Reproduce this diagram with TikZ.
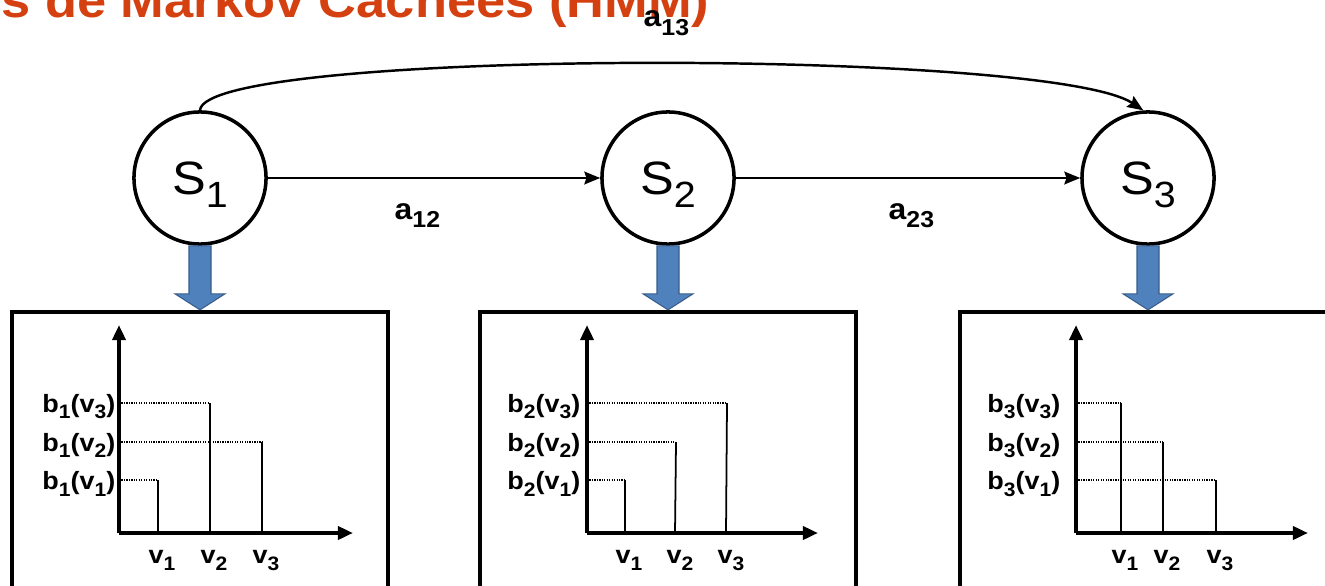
\documentclass[tikz,border=0pt]{standalone}
\usepackage{fontspec}
\setmainfont{Liberation Sans}[FakeStretch=1.08]
\usepackage{graphicx}
\usepackage{tikz}
\usetikzlibrary{arrows.meta,positioning,calc}
\definecolor{titleRed}{HTML}{D4400F}
\definecolor{emitFill}{HTML}{4F81BD}
\definecolor{emitEdge}{HTML}{385D8A}
\newcommand{\ix}[1]{\raisebox{-0.28em}{\scalebox{0.78}{#1}}}

\begin{document}
\begin{tikzpicture}[
    x=0.01cm, y=-0.01cm,
    state/.style={
      circle, draw, line width=1pt, minimum size=1.32cm, inner sep=0pt,
      text height=9.4pt, text depth=0pt, font=\fontsize{13.3pt}{15pt}\selectfont
    },
    obsbox/.style={rectangle, draw, line width=1.1pt, minimum width=3.76cm, minimum height=2.9cm, inner sep=0pt},
    trans/.style={-{Stealth[length=4.5pt,width=3.6pt,inset=0.6pt]}, line width=0.7pt},
    translbl/.style={inner sep=0pt, font=\fontsize{8.4pt}{10pt}\selectfont\bfseries},
    emitarr/.style={fill=emitFill, draw=emitEdge, line width=0.3pt},
    axis/.style={-{Triangle[length=4.3pt,width=3.7pt]}, line width=1.1pt},
    bar/.style={line width=0.5pt},
    guide/.style={line width=0.3pt, dash pattern=on 0.35pt off 0.35pt},
    obslbl/.style={inner sep=0pt, font=\fontsize{7.1pt}{8.5pt}\selectfont\bfseries}
  ]
  \useasboundingbox (0,0) rectangle (1325,585);
  \clip (0,0) rectangle (1325,585);

  \node[anchor=base east, inner sep=0pt, text=titleRed, font=\fontsize{13.8pt}{15pt}\selectfont\bfseries] (title) at (710,18) {s de Markov Cachées (HMM)};

  % states
  \node[state] (s1) at (200,178) {S\ix{1}};
  \node[state] (s2) at (668,178) {S\ix{2}};
  \node[state] (s3) at (1148,178) {S\ix{3}};

  \draw[trans] (s1) -- (s2);
  \draw[trans] (s2) -- (s3);
  \draw[trans] (s1.north) .. controls +(5,-62) and +(-93,-62) .. (s3.94);

  \node[translbl, anchor=base west] (a12) at (394,219) {a\ix{12}};
  \node[translbl, anchor=base west] (a23) at (888,219) {a\ix{23}};
  \node[translbl, anchor=base west] (a13) at (643,27) {a\ix{13}};

  % observation boxes
  \node[obsbox, below=0.64cm of s1] (box1) {};
  \node[obsbox, below=0.64cm of s2] (box2) {};
  \node[obsbox, below=0.64cm of s3] (box3) {};

  \draw[emitarr] ($(s1.south)+(-11,0)$) -- ($(box1.north)+(-11,-16)$) -- ++(-14,0) -- (box1.north) -- ++(25,-16) -- ++(-14,0) -- ($(s1.south)+(11,0)$) -- cycle;
  \draw[emitarr] ($(s2.south)+(-11,0)$) -- ($(box2.north)+(-11,-16)$) -- ++(-14,0) -- (box2.north) -- ++(25,-16) -- ++(-14,0) -- ($(s2.south)+(11,0)$) -- cycle;
  \draw[emitarr] ($(s3.south)+(-11,0)$) -- ($(box3.north)+(-11,-16)$) -- ++(-14,0) -- (box3.north) -- ++(25,-16) -- ++(-14,0) -- ($(s3.south)+(11,0)$) -- cycle;

  % chart 1
  \coordinate (o1) at (119,533);
  \draw[axis] (o1) -- (119,325);
  \draw[axis] (o1) -- (353,533);
  \draw[guide] (119,480) -- (158,480);
  \draw[guide] (119,403) -- (210,403);
  \draw[guide] (119,442) -- (262,442);
  \draw[bar] (158,533) -- (158,480);
  \draw[bar] (210,533) -- (210,403);
  \draw[bar] (262,533) -- (262,442);
  \node[obslbl, anchor=base east] (p1v3) at (116,412) {b\ix{1}(v\ix{3})};
  \node[obslbl, anchor=base east] (p1v2) at (116,451) {b\ix{1}(v\ix{2})};
  \node[obslbl, anchor=base east] (p1v1) at (116,489) {b\ix{1}(v\ix{1})};
  \node[obslbl, anchor=base] (t1v1) at (162,563) {v\ix{1}};
  \node[obslbl, anchor=base] (t1v2) at (214,563) {v\ix{2}};
  \node[obslbl, anchor=base] (t1v3) at (266,563) {v\ix{3}};

  % chart 2
  \coordinate (o2) at (587,533);
  \draw[axis] (o2) -- (587,325);
  \draw[axis] (o2) -- (818,533);
  \draw[guide] (587,480) -- (625,480);
  \draw[guide] (587,442) -- (675,442);
  \draw[guide] (587,403) -- (727,403);
  \draw[bar] (625,533) -- (625,480);
  \draw[bar] (675,533) -- (676,442);
  \draw[bar] (726,533) -- (727,403);
  \node[obslbl, anchor=base east] (p2v3) at (581,412) {b\ix{2}(v\ix{3})};
  \node[obslbl, anchor=base east] (p2v2) at (581,451) {b\ix{2}(v\ix{2})};
  \node[obslbl, anchor=base east] (p2v1) at (581,489) {b\ix{2}(v\ix{1})};
  \node[obslbl, anchor=base] (t2v1) at (629,563) {v\ix{1}};
  \node[obslbl, anchor=base] (t2v2) at (680,563) {v\ix{2}};
  \node[obslbl, anchor=base] (t2v3) at (731,563) {v\ix{3}};

  % chart 3
  \coordinate (o3) at (1076,533);
  \draw[axis] (o3) -- (1076,325);
  \draw[axis] (o3) -- (1308,533);
  \draw[guide] (1076,403) -- (1121,403);
  \draw[guide] (1076,442) -- (1163,442);
  \draw[guide] (1076,480) -- (1216,480);
  \draw[bar] (1121,533) -- (1121,403);
  \draw[bar] (1163,533) -- (1163,442);
  \draw[bar] (1216,533) -- (1216,480);
  \node[obslbl, anchor=base east] (p3v3) at (1061,412) {b\ix{3}(v\ix{3})};
  \node[obslbl, anchor=base east] (p3v2) at (1061,451) {b\ix{3}(v\ix{2})};
  \node[obslbl, anchor=base east] (p3v1) at (1061,489) {b\ix{3}(v\ix{1})};
  \node[obslbl, anchor=base] (t3v1) at (1125,563) {v\ix{1}};
  \node[obslbl, anchor=base] (t3v2) at (1167,563) {v\ix{2}};
  \node[obslbl, anchor=base] (t3v3) at (1220,563) {v\ix{3}};
\end{tikzpicture}
\end{document}
